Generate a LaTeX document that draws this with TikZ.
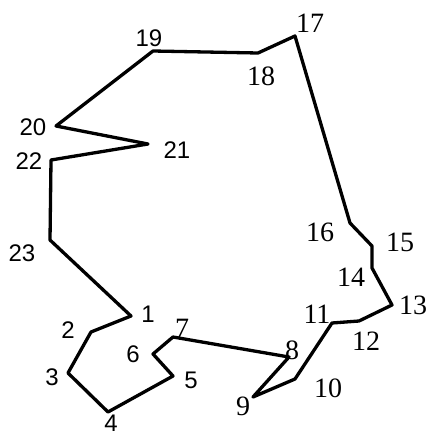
\documentclass[tikz,border=0pt]{standalone}
\usepackage{fontspec}
\setmainfont{Liberation Serif}
\setsansfont{Liberation Sans}
\begin{document}
\begin{tikzpicture}[x=1pt,y=-1pt,
  edge/.style={line width=3.3pt,line join=round,black},
  lbs/.style={font=\sffamily\fontsize{24}{24}\selectfont,inner sep=0pt},
  lbr/.style={font=\rmfamily\fontsize{28}{28}\selectfont,inner sep=0pt}]
\useasboundingbox (0,0) rectangle (430,436);
% vertices
\coordinate (v1) at (131,316);
\coordinate (v2) at (91,332);
\coordinate (v3) at (68,373);
\coordinate (v4) at (108,412);
\coordinate (v5) at (173,376);
\coordinate (v6) at (153,354);
\coordinate (v7) at (173,337);
\coordinate (v8) at (289,357);
\coordinate (v9) at (253,397);
\coordinate (v10) at (295,379);
\coordinate (v11) at (332,323);
\coordinate (v12) at (359,321);
\coordinate (v13) at (392,305);
\coordinate (v14) at (372,268);
\coordinate (v15) at (372,246);
\coordinate (v16) at (350,223);
\coordinate (v17) at (295,36);
\coordinate (v18) at (258,53);
\coordinate (v19) at (153,51);
\coordinate (v20) at (56,126);
\coordinate (v21) at (148,144);
\coordinate (v22) at (51,160);
\coordinate (v23) at (50,240);
% outline
\draw[edge] (v1) -- (v2) -- (v3) -- (v4) -- (v5) -- (v6) -- (v7) -- (v8) -- (v9) -- (v10)
  -- (v11) -- (v12) -- (v13) -- (v14) -- (v15) -- (v16) -- (v17) -- (v18) -- (v19)
  -- (v20) -- (v21) -- (v22) -- (v23) -- cycle;
% labels
\node[lbs] (l1) at (148,314) {1};
\node[lbs] (l2) at (68,330) {2};
\node[lbs] (l3) at (52,377) {3};
\node[lbs] (l4) at (111,423) {4};
\node[lbs] (l5) at (191,380) {5};
\node[lbs] (l6) at (133,354) {6};
\node[lbr] (l7) at (182,328) {7};
\node[lbr] (l8) at (292,350) {8};
\node[lbr] (l9) at (243,406) {9};
\node[lbr] (l10) at (328,388) {10};
\node[lbr] (l11) at (317,314) {11};
\node[lbr] (l12) at (366,341) {12};
\node[lbr] (l13) at (413,305) {13};
\node[lbr] (l14) at (351,277) {14};
\node[lbr] (l15) at (400,242) {15};
\node[lbr] (l16) at (320,232) {16};
\node[lbr] (l17) at (310,23) {17};
\node[lbr] (l18) at (261,76) {18};
\node[lbs] (l19) at (149,38) {19};
\node[lbs] (l20) at (33,127) {20};
\node[lbs] (l21) at (177,150) {21};
\node[lbs] (l22) at (29,161) {22};
\node[lbs] (l23) at (22,253) {23};
\end{tikzpicture}
\end{document}
